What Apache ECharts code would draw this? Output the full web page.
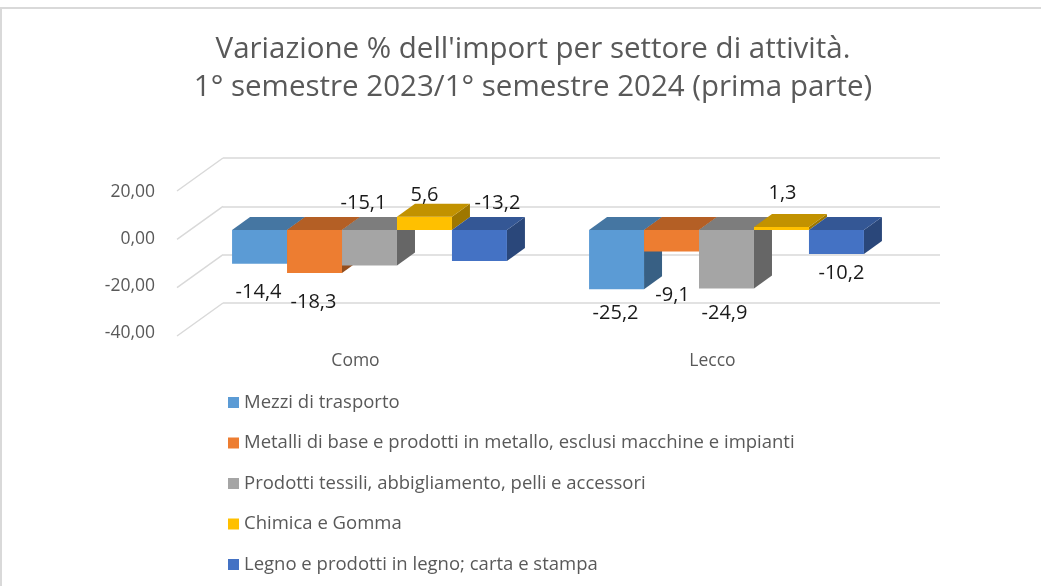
<!DOCTYPE html>
<html>
<head>
<meta charset="utf-8">
<script src="https://cdn.jsdelivr.net/npm/echarts@6/dist/echarts.min.js"></script>
<style>
  html, body { margin: 0; padding: 0; background: #fff; }
  #chart { width: 1041px; height: 586px; }
</style>
</head>
<body>
<div id="chart"></div>
<script>
// data
const categories = ['Como', 'Lecco'];
const seriesNames = [
    'Mezzi di trasporto',
    'Metalli di base e prodotti in metallo, esclusi macchine e impianti',
    'Prodotti tessili, abbigliamento, pelli e accessori',
    'Chimica e Gomma',
    'Legno e prodotti in legno; carta e stampa'
];
const mezzi = [-14.4, -25.2];
const metalli = [-18.3, -9.1];
const tessili = [-15.1, -24.9];
const chimica = [5.6, 1.3];
const legno = [-13.2, -10.2];
const yTicks = [20, 0, -20, -40];

const seriesValues = [mezzi, metalli, tessili, chimica, legno];
const colors = ['#5B9BD5', '#ED7D31', '#A5A5A5', '#FFC000', '#4472C4'];

// fake 3d depth of the bars / walls
const DX = 18, DY = -13;
const WALL_DX = -46, WALL_DY = 33;
// label offsets from the zero line, front face centre (Excel places them oddly)
const labelNudge = [
    [[-1, 62], [-1, 83]],
    [[-1, 72], [1, 65]],
    [[-6, -27], [-2, 83]],
    [[0, -35], [1, -37]],
    [[18, -27], [5, 43]]
];
const FONT = '"Open Sans", Lato, sans-serif';

function shade(hex, k) {
    const n = parseInt(hex.slice(1), 16);
    const r = Math.round(((n >> 16) & 255) * k);
    const g = Math.round(((n >> 8) & 255) * k);
    const b = Math.round((n & 255) * k);
    return 'rgb(' + r + ',' + g + ',' + b + ')';
}

function fmt(v) {
    return v.toFixed(1).replace('.', ',');
}

function renderBar(params, api) {
    const s = params.seriesIndex - 1;
    const cat = api.value(0);
    const v = api.value(1);
    const zero = api.coord([cat, 0]);
    const end = api.coord([cat, v]);
    const band = api.size([1, 0])[0];
    const w = band * 0.77 / 5;
    const x0 = zero[0] - 2.5 * w + s * w;
    const x1 = x0 + w;
    const yt = Math.min(zero[1], end[1]);
    const yb = Math.max(zero[1], end[1]);
    const col = colors[s];
    const nudge = labelNudge[s][cat];
    return {
        type: 'group',
        children: [
            {
                type: 'polygon',
                shape: { points: [[x1, yt], [x1 + DX, yt + DY], [x1 + DX, yb + DY], [x1, yb]] },
                style: { fill: shade(col, 0.62) }
            },
            {
                type: 'rect',
                shape: { x: x0, y: yt, width: w, height: yb - yt },
                style: { fill: col }
            },
            {
                type: 'polygon',
                shape: { points: [[x0, yt], [x1, yt], [x1 + DX, yt + DY], [x0 + DX, yt + DY]] },
                style: { fill: shade(col, 0.76) }
            },
            {
                type: 'text',
                x: (x0 + x1) / 2 + nudge[0],
                y: zero[1] + nudge[1],
                style: {
                    text: fmt(v),
                    fill: '#1a1a1a',
                    font: '20px ' + FONT,
                    align: 'center',
                    verticalAlign: 'middle'
                }
            }
        ]
    };
}

const barSeries = seriesValues.map(function (vals, i) {
    return {
        name: seriesNames[i],
        type: 'custom',
        xAxisIndex: 1,
        yAxisIndex: 1,
        z: 3 + i,
        itemStyle: { color: colors[i] },
        renderItem: renderBar,
        encode: { x: 0, y: 1 },
        data: vals.map(function (v, c) { return [c, v]; })
    };
});

const chart = echarts.init(document.getElementById('chart'));

const option = {
    animation: false,
    color: colors,
    title: {
        text: "Variazione % dell'import per settore di attività.\n1° semestre 2023/1° semestre 2024 (prima parte)",
        left: 528,
        top: 26,
        textAlign: 'center',
        textStyle: {
            fontFamily: FONT,
            fontSize: 29.5,
            fontWeight: 'normal',
            color: '#595959',
            lineHeight: 38
        }
    },
    graphic: [{
        type: 'rect',
        shape: { x: 1, y: 8, width: 1100, height: 700 },
        style: { fill: 'none', stroke: '#d9d9d9', lineWidth: 2 },
        silent: true
    }],
    legend: {
        orient: 'vertical',
        left: 223,
        top: 388,
        itemWidth: 11,
        itemHeight: 11,
        itemGap: 21.5,
        icon: 'rect',
        data: seriesNames,
        textStyle: { fontFamily: FONT, fontSize: 18.5, color: '#595959', lineHeight: 16 }
    },
    grid: [
        { left: 223, top: 158, width: 717, height: 145 },  // back wall
        { left: 191, top: 183, width: 714, height: 141 },  // bars
        { left: 177, top: 192, width: 714, height: 141 }   // front labels
    ],
    xAxis: [
        { gridIndex: 0, type: 'value', min: 0, max: 1, show: false },
        { gridIndex: 1, type: 'category', data: categories, show: false },
        {
            gridIndex: 2, type: 'category', data: categories,
            axisLine: { show: false }, axisTick: { show: false },
            axisLabel: { margin: 19, fontFamily: FONT, fontSize: 17.5, color: '#595959' }
        }
    ],
    yAxis: [
        {
            gridIndex: 0, type: 'value', min: -40, max: 20, interval: 20,
            axisLine: { show: false }, axisTick: { show: false }, axisLabel: { show: false },
            splitLine: { lineStyle: { color: '#d9d9d9', width: 1.5 } }
        },
        { gridIndex: 1, type: 'value', min: -40, max: 20, interval: 20, show: false },
        {
            gridIndex: 2, type: 'value', min: -40, max: 20, interval: 20,
            axisLine: { show: false }, axisTick: { show: false }, splitLine: { show: false },
            axisLabel: {
                margin: 22, fontFamily: FONT, fontSize: 17.5, color: '#595959',
                formatter: function (v) { return v.toFixed(2).replace('.', ','); }
            }
        }
    ],
    series: [{
        type: 'custom',
        xAxisIndex: 0,
        yAxisIndex: 0,
        z: 1,
        silent: true,
        data: yTicks.map(function (t) { return [0, t]; }),
        renderItem: function (params, api) {
            const p = api.coord([0, api.value(1)]);
            return {
                type: 'line',
                shape: { x1: p[0], y1: p[1], x2: p[0] + WALL_DX, y2: p[1] + WALL_DY },
                style: { stroke: '#d9d9d9', lineWidth: 1.5 }
            };
        }
    }].concat(barSeries)
};

chart.setOption(option);
</script>
</body>
</html>
